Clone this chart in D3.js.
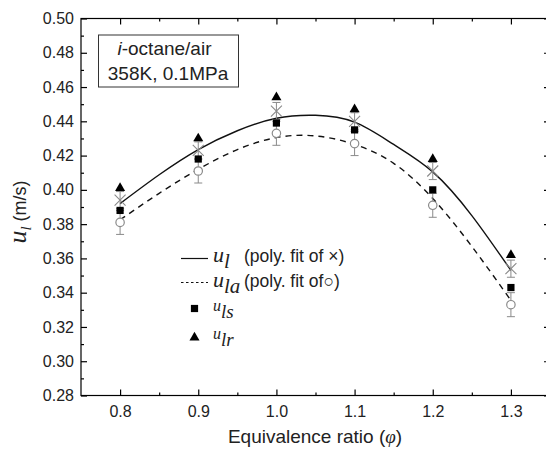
<!DOCTYPE html>
<html>
<head>
<meta charset="utf-8">
<script src="https://cdn.jsdelivr.net/npm/d3@7"></script>
<style>
  body { margin: 0; background: #fff; }
  text { font-family: Arial, "Liberation Sans", sans-serif; }
  .serif { font-family: "Times New Roman", "Liberation Serif", serif; font-style: italic; }
</style>
</head>
<body>
<div id="chart"></div>
<script>
// equivalence ratio
const phi = [0.8, 0.9, 1.0, 1.1, 1.2, 1.3];
// measured speeds (m/s)
const ulr   = [0.401, 0.430, 0.454, 0.447, 0.418, 0.362];   // triangles
const ulX   = [0.394, 0.423, 0.446, 0.440, 0.411, 0.354];   // crosses
const uls   = [0.388, 0.418, 0.439, 0.435, 0.400, 0.343];   // squares
const ulaO  = [0.381, 0.411, 0.433, 0.427, 0.391, 0.333];   // circles
const errX  = [0.005, 0.005, 0.005, 0.005, 0.005, 0.005];
const errO  = [0.007, 0.007, 0.007, 0.007, 0.007, 0.007];

// fit curves
const fitPhi = [0.8, 0.85, 0.9, 0.95, 1.0, 1.05, 1.1, 1.15, 1.2, 1.25, 1.3];
const fitUl  = [0.392, 0.4088, 0.4235, 0.4345, 0.4418, 0.4435, 0.4395, 0.4265, 0.4105, 0.385, 0.353];
const fitUla = [0.3825, 0.398, 0.412, 0.4235, 0.4305, 0.4315, 0.4265, 0.4155, 0.395, 0.367, 0.3355];

const xTicks = [0.8, 0.9, 1.0, 1.1, 1.2, 1.3];
const xMinor = [0.85, 0.95, 1.05, 1.15, 1.25];
const yTicks = [0.28, 0.30, 0.32, 0.34, 0.36, 0.38, 0.40, 0.42, 0.44, 0.46, 0.48, 0.50];
const yMinor = [0.29, 0.31, 0.33, 0.35, 0.37, 0.39, 0.41, 0.43, 0.45, 0.47, 0.49];

const width = 546, height = 451;
const margin = {top: 18.5, right: -4, bottom: 55.5, left: 81};

const svg = d3.select('#chart').append('svg')
    .attr('width', width)
    .attr('height', height);

const x = d3.scaleLinear().domain([0.75, 1.35]).range([margin.left, width - margin.right]);
const y = d3.scaleLinear().domain([0.28, 0.50]).range([height - margin.bottom, margin.top]);

const gray = '#8a8a8a';

// frame
svg.append('rect')
    .attr('x', x(0.75)).attr('y', y(0.50))
    .attr('width', x(1.35) - x(0.75)).attr('height', y(0.28) - y(0.50))
    .attr('fill', 'none').attr('stroke', '#000').attr('stroke-width', 1.2);

function drawAxis(axis, tx, ty, labels) {
  const g = svg.append('g').attr('transform', `translate(${tx},${ty})`).call(axis);
  g.select('.domain').remove();
  g.selectAll('line').attr('stroke', '#000').attr('stroke-width', 1.2);
  g.selectAll('text').attr('font-size', 16).attr('fill', '#222');
  if (!labels) g.selectAll('text').remove();
  return g;
}

const fmt = d3.format('.1f');
const fmtY = d3.format('.2f');

drawAxis(d3.axisBottom(x).tickValues(xTicks).tickFormat(fmt).tickSize(-6).tickPadding(10), 0, y(0.28), true);
drawAxis(d3.axisBottom(x).tickValues(xMinor).tickFormat('').tickSize(-3), 0, y(0.28), false);
drawAxis(d3.axisTop(x).tickValues(xTicks).tickSize(-6), 0, y(0.50), false);
drawAxis(d3.axisTop(x).tickValues(xMinor).tickSize(-3), 0, y(0.50), false);
drawAxis(d3.axisLeft(y).tickValues(yTicks).tickFormat(fmtY).tickSize(-6).tickPadding(7), x(0.75), 0, true);
drawAxis(d3.axisLeft(y).tickValues(yMinor).tickFormat('').tickSize(-3), x(0.75), 0, false);
drawAxis(d3.axisRight(y).tickValues(yTicks).tickSize(-6), x(1.35), 0, false);
drawAxis(d3.axisRight(y).tickValues(yMinor).tickSize(-3), x(1.35), 0, false);

// axis titles
svg.append('text')
    .attr('x', 315).attr('y', 443)
    .attr('text-anchor', 'middle')
    .attr('font-size', 19).attr('fill', '#222')
    .html('Equivalence ratio (<tspan class="serif">φ</tspan>)');

const yt = svg.append('text')
    .attr('transform', 'translate(26,212) rotate(-90)')
    .attr('text-anchor', 'middle')
    .attr('fill', '#222');
yt.append('tspan').attr('class', 'serif').attr('font-size', 26).text('u');
yt.append('tspan').attr('class', 'serif').attr('font-size', 15).attr('dy', 5).text('l');
yt.append('tspan').attr('font-size', 18).attr('dy', -5).text(' (m/s)');

// text box
svg.append('rect')
    .attr('x', 98.5).attr('y', 35).attr('width', 140).attr('height', 52)
    .attr('fill', '#fff').attr('stroke', '#333').attr('stroke-width', 1);
svg.append('text')
    .attr('x', 164.5).attr('y', 55).attr('text-anchor', 'middle')
    .attr('font-size', 19).attr('fill', '#222')
    .html('<tspan font-style="italic">i</tspan>-octane/air');
svg.append('text')
    .attr('x', 168).attr('y', 80).attr('text-anchor', 'middle')
    .attr('font-size', 19).attr('fill', '#222')
    .text('358K, 0.1MPa');

// fit curves
const line = d3.line().x(d => x(d[0])).y(d => y(d[1])).curve(d3.curveNatural);
svg.append('path')
    .attr('d', line(fitPhi.map((p, i) => [p, fitUl[i]])))
    .attr('fill', 'none').attr('stroke', '#111').attr('stroke-width', 1.4);
svg.append('path')
    .attr('d', line(fitPhi.map((p, i) => [p, fitUla[i]])))
    .attr('fill', 'none').attr('stroke', '#111').attr('stroke-width', 1.4)
    .attr('stroke-dasharray', '6,5');

// error bars
function errorBars(vals, errs) {
  const g = svg.append('g').attr('stroke', gray).attr('stroke-width', 1);
  phi.forEach((p, i) => {
    const cx = x(p);
    g.append('line').attr('x1', cx).attr('x2', cx)
      .attr('y1', y(vals[i] - errs[i])).attr('y2', y(vals[i] + errs[i]));
    [vals[i] - errs[i], vals[i] + errs[i]].forEach(v => {
      g.append('line').attr('x1', cx - 4).attr('x2', cx + 4)
        .attr('y1', y(v)).attr('y2', y(v));
    });
  });
}
errorBars(ulX, errX);
errorBars(ulaO, errO);

// crosses
svg.append('g').selectAll('path')
  .data(phi.map((p, i) => [p, ulX[i]]))
  .join('path')
    .attr('transform', d => `translate(${x(d[0])},${y(d[1])})`)
    .attr('d', 'M-5.5,-5.5L5.5,5.5M-5.5,5.5L5.5,-5.5')
    .attr('stroke', gray).attr('stroke-width', 1.1).attr('fill', 'none');

// circles
svg.append('g').selectAll('circle')
  .data(phi.map((p, i) => [p, ulaO[i]]))
  .join('circle')
    .attr('cx', d => x(d[0])).attr('cy', d => y(d[1])).attr('r', 4.2)
    .attr('fill', '#fff').attr('stroke', gray).attr('stroke-width', 1.2);

// squares
const sq = d3.symbol().type(d3.symbolSquare).size(52);
const tri = d3.symbol().type(d3.symbolTriangle).size(44);
svg.append('g').selectAll('path')
  .data(phi.map((p, i) => [p, uls[i]]))
  .join('path')
    .attr('transform', d => `translate(${x(d[0])},${y(d[1])})`)
    .attr('d', sq).attr('fill', '#000');

// triangles
svg.append('g').selectAll('path')
  .data(phi.map((p, i) => [p, ulr[i]]))
  .join('path')
    .attr('transform', d => `translate(${x(d[0])},${y(d[1])})`)
    .attr('d', tri).attr('fill', '#000');

// legend
const lg = svg.append('g');
lg.append('line').attr('x1', 181).attr('x2', 208).attr('y1', 258.5).attr('y2', 258.5)
  .attr('stroke', '#111').attr('stroke-width', 1.2);
lg.append('line').attr('x1', 181).attr('x2', 208).attr('y1', 282.5).attr('y2', 282.5)
  .attr('stroke', '#111').attr('stroke-width', 1.2).attr('stroke-dasharray', '2.5,2.5');
lg.append('path').attr('transform', 'translate(194.5,308.5)').attr('d', sq).attr('fill', '#000');
lg.append('path').attr('transform', 'translate(194.5,337.5)').attr('d', tri).attr('fill', '#000');

function legendLabel(yy, sub, rest, big) {
  const t = lg.append('text').attr('x', 213).attr('y', yy).attr('fill', '#222');
  t.append('tspan').attr('class', 'serif').attr('font-size', big ? 22 : 16).text('u');
  t.append('tspan').attr('class', 'serif').attr('font-size', big ? 21 : 19)
    .attr('dy', big ? 6 : 7).text(sub);
  if (rest) {
    lg.append('text').attr('x', 244).attr('y', yy).attr('fill', '#222')
      .attr('font-size', 17.5).text(rest);
  }
}
legendLabel(262, 'l', '(poly. fit of \u00d7)', true);
legendLabel(287, 'la', '(poly. fit of\u25cb)', true);
legendLabel(311, 'ls', null, false);
legendLabel(339, 'lr', null, false);
</script>
</body>
</html>
